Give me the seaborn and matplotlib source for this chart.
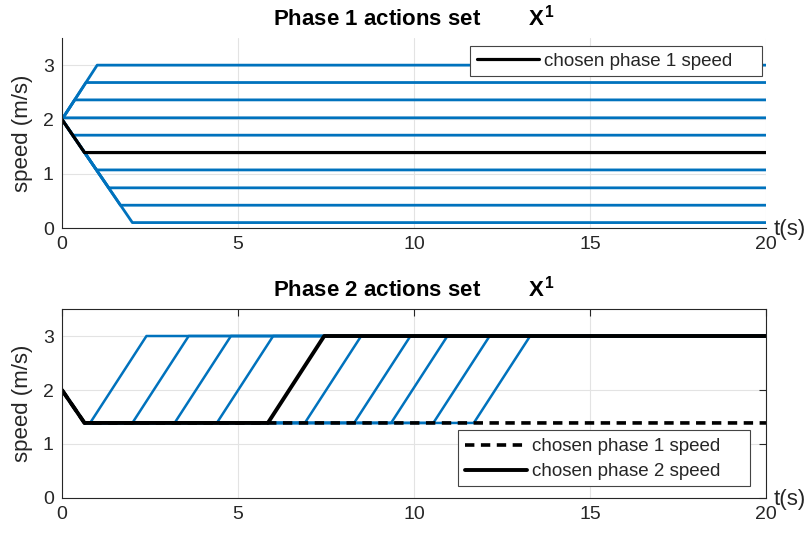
import numpy as np
import pandas as pd
import matplotlib
matplotlib.use("Agg")
import matplotlib.pyplot as plt
from matplotlib.patches import Rectangle
import seaborn as sns

# ---------------- data ----------------
v0 = 2.0
t_end = 20.0

# Phase 1: candidate constant speeds and the time each ramp reaches it
phase1_levels = [3.0, 2.68, 2.36, 2.03, 1.71, 1.07, 0.74, 0.42, 0.10]
phase1_reach_t = [1.0, 0.68, 0.36, 0.03, 0.31, 0.98, 1.33, 1.66, 2.0]
chosen1_level = 1.39
chosen1_reach_t = 0.64

# Phase 2: ramps from the chosen phase-1 speed up to the top speed
phase2_top = 3.0
phase2_start_t = [0.8, 2.0, 3.2, 4.4, 6.9, 8.3, 9.35, 10.55, 11.7]
phase2_top_t = [2.4, 3.6, 4.8, 6.0, 8.5, 9.9, 10.95, 12.15, 13.3]
chosen2_start_t = 5.85
chosen2_top_t = 7.45

x_ticks = [0, 5, 10, 15, 20]
y_ticks = [0, 1, 2, 3]

BLUE = "#0072BD"
DARK = "#262626"

# ---------------- style ----------------
sns.set_theme(style="white")
plt.rcParams["font.family"] = ["Liberation Sans", "DejaVu Sans"]
plt.rcParams["mathtext.fontset"] = "custom"
plt.rcParams["mathtext.rm"] = "Liberation Sans"
plt.rcParams["mathtext.bf"] = "Liberation Sans:bold"

W, H = 808, 536
fig = plt.figure(figsize=(W / 100, H / 100), dpi=100)
ax1 = fig.add_axes([0.0767, 0.5746, 0.8713, 0.3545])
ax2 = fig.add_axes([0.0767, 0.0709, 0.8713, 0.3526])


def draw(ax, t, v, **kw):
    df = pd.DataFrame({"t": t, "v": v})
    sns.lineplot(data=df, x="t", y="v", ax=ax, sort=False, estimator=None, **kw)


# ---- top panel ----
for lev, tr in zip(phase1_levels, phase1_reach_t):
    draw(ax1, [0, tr, t_end], [v0, lev, lev], color=BLUE, lw=2.0)
draw(ax1, [0, chosen1_reach_t, t_end], [v0, chosen1_level, chosen1_level],
     color="black", lw=2.3, label="chosen phase 1 speed")

# ---- bottom panel ----
for ts, tt in zip(phase2_start_t, phase2_top_t):
    draw(ax2, [0, chosen1_reach_t, ts, tt, t_end],
         [v0, chosen1_level, chosen1_level, phase2_top, phase2_top],
         color=BLUE, lw=1.8)
draw(ax2, [0, chosen1_reach_t, t_end], [v0, chosen1_level, chosen1_level],
     color="black", lw=2.6, dashes=(2.6, 1.8), label="chosen phase 1 speed")
draw(ax2, [0, chosen1_reach_t, chosen2_start_t, chosen2_top_t, t_end],
     [v0, chosen1_level, chosen1_level, phase2_top, phase2_top],
     color="black", lw=2.8, label="chosen phase 2 speed")

titles = [r"Phase 1 actions set        $\mathbf{X}^{\mathbf{1}}$",
          r"Phase 2 actions set        $\mathbf{X}^{\mathbf{1}}$"]

for ax, title, box in [(ax1, titles[0], False), (ax2, titles[1], True)]:
    ax.set_xlim(0, 20)
    ax.set_ylim(0, 3.5)
    ax.set_xticks(x_ticks)
    ax.set_yticks(y_ticks)
    ax.grid(True, color="#e3e3e3", lw=0.8)
    ax.set_axisbelow(True)
    ax.set_xlabel("")
    ax.set_ylabel("speed (m/s)", fontsize=16, color=DARK, labelpad=7)
    ax.set_title(title, fontsize=16, fontweight="bold", color="black", pad=9)
    ax.tick_params(direction="in", length=5, width=0.8, colors=DARK,
                   labelsize=14, top=box, right=box, pad=6)
    ax.tick_params(axis="x", pad=6)
    for side, sp in ax.spines.items():
        sp.set_color(DARK)
        sp.set_linewidth(0.8)
    if not box:
        ax.spines["top"].set_visible(False)
        ax.spines["right"].set_visible(False)
    ax.text(1.011, -0.01, "t(s)", transform=ax.transAxes, ha="left",
            va="center", fontsize=16, color=DARK)


def framed_legend(ax, anchor_px, frame_px, spacing):
    leg = ax.legend(loc="center left",
                    bbox_to_anchor=(anchor_px[0] / W, 1 - anchor_px[1] / H),
                    bbox_transform=fig.transFigure, fontsize=13.5,
                    handlelength=3.3, handletextpad=0.3, frameon=False,
                    borderpad=0, borderaxespad=0, labelspacing=spacing)
    leg.set_zorder(6)
    x0, y0, x1, y1 = frame_px
    rect = Rectangle((x0 / W, 1 - y1 / H), (x1 - x0) / W, (y1 - y0) / H,
                     transform=fig.transFigure, facecolor="white",
                     edgecolor="#444444", lw=0.8, zorder=5, clip_on=False)
    ax.add_artist(rect)
    return leg


framed_legend(ax1, (477, 61), (470, 46, 762, 76), 0.3)
framed_legend(ax2, (465, 459), (458, 430, 750, 486), 0.42)

fig.savefig("out.png", dpi=100)
